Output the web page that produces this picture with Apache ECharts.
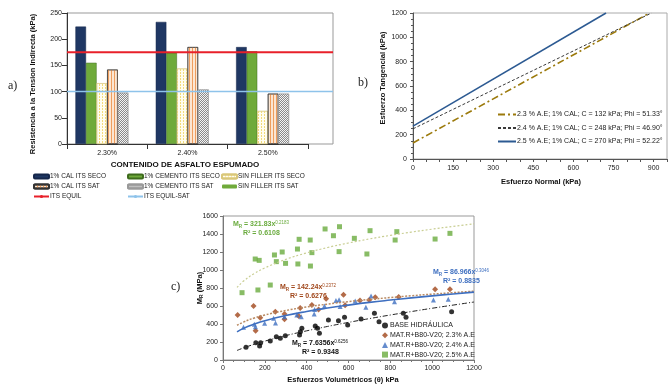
<!DOCTYPE html>
<html>
<head>
<meta charset="utf-8">
<script src="https://cdn.jsdelivr.net/npm/echarts@6/dist/echarts.min.js"></script>
<style>
html, body { margin: 0; padding: 0; background: #fff; }
#main { width: 672px; height: 390px; }
</style>
</head>
<body>
<div id="main"></div>
<script>
// a) resistencia a la tension indirecta (kPa)
const asfalto = ['2.30%', '2.40%', '2.50%'];
const calSeco = [224, 233, 185];
const cementoSeco = [155, 174, 177];
const sinFillerSeco = [116, 144, 63];
const calSat = [142, 185, 96];
const cementoSat = [98, 104, 96];
const sinFillerSat = [null, null, null];
const itsEquil = 175;
const itsEquilSat = 100;

// b) envolventes de falla, extremos [normal, tangencial]
const env23 = [[0, 132], [885, 1200]];
const env24 = [[0, 248], [892, 1200]];
const env25 = [[0, 270], [722, 1200]];

// c) modulo resiliente vs esfuerzo volumetrico
const baseHidraulica = [[110,141],[157,193],[175,156],[180,193],[226,211],[255,259],[274,241],[298,270],
  [366,278],[370,315],[377,352],[441,378],[452,352],[461,296],[504,444],[552,437],[581,474],[596,389],
  [660,455],[724,519],[746,426],[862,519],[875,474],[1093,537]];
const mat23 = [[70,500],[146,600],[156,326],[178,470],[250,537],[294,511],[294,452],[369,578],[362,490],
  [425,612],[457,560],[493,680],[576,726],[584,608],[655,660],[699,667],[728,697],[840,700],[1014,785],[1085,785]];
const mat24 = [[98,363],[150,396],[155,370],[199,407],[242,463],[251,410],[294,481],[353,500],[374,481],
  [436,511],[438,560],[485,600],[540,660],[555,670],[560,595],[632,656],[683,585],[708,711],[820,648],
  [1006,667],[1077,674]];
const mat25 = [[91,748],[154,1122],[173,1107],[167,778],[226,833],[246,1167],[255,1093],[283,1200],[299,1074],
  [356,1233],[364,1341],[358,1067],[417,1333],[425,1193],[418,1044],[488,1456],[528,1381],[557,1481],
  [555,1204],[628,1352],[703,1437],[688,1178],[831,1426],[823,1333],[1014,1344],[1085,1407]];
// lineas de tendencia (potencial)
const trendBase = [[67,106],[100,136],[150,175],[200,210],[300,271],[400,324],[500,373],[600,418],[700,460],[800,500],[900,538],[1000,575],[1100,610],[1200,644]];
const trend23 = [[67,386],[100,424],[150,467],[200,500],[300,550],[400,589],[500,621],[600,649],[700,673],[800,694],[900,714],[1000,732],[1100,749],[1200,765]];
const trend24 = [[67,313],[100,354],[150,400],[200,437],[300,494],[400,539],[500,577],[600,610],[700,640],[800,666],[900,690],[1000,713],[1100,734],[1200,754]];
const trend25 = [[67,806],[100,880],[150,961],[200,1023],[300,1118],[400,1190],[500,1250],[600,1300],[700,1345],[800,1385],[900,1421],[1000,1454],[1100,1485],[1200,1513]];

const FONT = "'Liberation Sans', Arial, sans-serif";
const lbl = { fontFamily: FONT, fontSize: 7, color: '#222', formatter: v => String(v) };

var chart = echarts.init(document.getElementById('main'));

function eqRich(c) {
    return {
        m: { font: "bold 7px " + FONT, fill: c, lineHeight: 9 },
        s: { font: "bold 4.5px " + FONT, fill: c, lineHeight: 9, padding: [4, 0, 0, 0] },
        p: { font: "4.5px " + FONT, fill: c, lineHeight: 9, padding: [0, 0, 4, 0] },
        r: { font: "bold 7px " + FONT, fill: c, lineHeight: 9, padding: [0, 0, 0, 10] }
    };
}

const legA = {
    orient: 'vertical', top: 172, itemWidth: 15, itemHeight: 4, itemGap: 1, padding: 0,
    textStyle: { fontFamily: FONT, fontSize: 6.5, color: '#222', lineHeight: 9, padding: [0, 0, 0, -4] }
};

const option = {
    backgroundColor: '#fff',
    animation: false,
    textStyle: { fontFamily: FONT },
    grid: [
        { left: 67, top: 13, width: 241, height: 131 },
        { left: 413, top: 13, width: 254, height: 146, show: true, borderColor: '#aaa', borderWidth: 1 },
        { left: 223, top: 216, width: 251, height: 144, show: true, borderColor: '#999', borderWidth: 1 },
        // marco del grafico a) y lineas ITS
        { left: 67, top: 13, width: 266, height: 131, show: true, borderColor: '#999', borderWidth: 1, backgroundColor: 'transparent' }
    ],
    xAxis: [
        {
            gridIndex: 0, type: 'category', data: asfalto,
            axisLine: { lineStyle: { color: '#333' } },
            axisTick: { show: true, lineStyle: { color: '#333' } },
            axisLabel: { fontFamily: FONT, fontSize: 7, color: '#222', margin: 6 }
        },
        {
            gridIndex: 1, type: 'value', min: 0, max: 950, interval: 50,
            axisLine: { lineStyle: { color: '#555' } },
            axisTick: { show: true, length: 3, lineStyle: { color: '#555' } },
            splitLine: { show: false },
            axisLabel: Object.assign({}, lbl, { margin: 6, formatter: v => (v % 150 === 0 ? String(v) : '') })
        },
        {
            gridIndex: 2, type: 'value', min: 0, max: 1200, interval: 200,
            axisLine: { lineStyle: { color: '#777' } },
            axisTick: { show: true, length: 3, lineStyle: { color: '#777' } },
            minorTick: { show: true, splitNumber: 4, length: 2, lineStyle: { color: '#777' } },
            splitLine: { show: false },
            axisLabel: Object.assign({}, lbl, { margin: 5 })
        },
        { gridIndex: 3, type: 'value', min: 0, max: 1, show: false }
    ],
    yAxis: [
        {
            gridIndex: 0, type: 'value', min: 0, max: 250, interval: 50,
            axisLine: { show: true, lineStyle: { color: '#333' } },
            axisTick: { show: true, lineStyle: { color: '#333' } },
            splitLine: { show: false },
            axisLabel: Object.assign({}, lbl, { margin: 5 })
        },
        {
            gridIndex: 1, type: 'value', min: 0, max: 1200, interval: 200,
            axisLine: { show: true, lineStyle: { color: '#555' } },
            axisTick: { show: true, length: 3, lineStyle: { color: '#555' } },
            minorTick: { show: true, splitNumber: 4, length: 2, lineStyle: { color: '#555' } },
            splitLine: { show: false },
            axisLabel: Object.assign({}, lbl, { margin: 6 })
        },
        {
            gridIndex: 2, type: 'value', min: 0, max: 1600, interval: 200,
            axisLine: { show: true, lineStyle: { color: '#777' } },
            axisTick: { show: true, length: 3, lineStyle: { color: '#777' } },
            splitLine: { show: false },
            axisLabel: Object.assign({}, lbl, { margin: 5 })
        },
        { gridIndex: 3, type: 'value', min: 0, max: 250, show: false }
    ],
    legend: [
        Object.assign({}, legA, { left: 33, data: ['1% CAL ITS SECO', '1% CAL ITS SAT', 'ITS EQUIL'] }),
        Object.assign({}, legA, { left: 127, data: ['1% CEMENTO ITS SECO', '1% CEMENTO ITS SAT', 'ITS EQUIL-SAT'] }),
        Object.assign({}, legA, { left: 221, data: ['SIN FILLER ITS SECO', 'SIN FILLER ITS SAT'] }),
        {
            data: ['2.3 % A.E; 1% CAL; C = 132 kPa; Phi = 51.33°', '2.4 % A.E; 1% CAL; C = 248 kPa; Phi = 46.90°', '2.5 % A.E; 1% CAL; C = 270 kPa; Phi = 52.22°'],
            orient: 'vertical', left: 497, top: 111, itemWidth: 18, itemHeight: 8, itemGap: 6.5, padding: 0,
            itemStyle: { opacity: 0 },
            textStyle: { fontFamily: FONT, fontSize: 7, color: '#222', padding: [0, 0, 0, -4] }
        },
        {
            data: ['BASE HIDRÁULICA', 'MAT.R+B80-V20; 2.3% A.E', 'MAT.R+B80-V20; 2.4% A.E', 'MAT.R+B80-V20; 2.5% A.E'],
            orient: 'vertical', left: 382, top: 322, itemWidth: 6, itemHeight: 6, itemGap: 2.7, padding: 0,
            textStyle: { fontFamily: FONT, fontSize: 7, color: '#222', padding: [0, 0, 0, -3] }
        }
    ],
    series: [
        // a) barras
        {
            name: '1% CAL ITS SECO', type: 'bar', xAxisIndex: 0, yAxisIndex: 0, data: calSeco,
            barGap: '0%', barCategoryGap: '21%',
            itemStyle: { color: '#1F3763', borderColor: '#15264a', borderWidth: 0.5 }
        },
        {
            name: '1% CEMENTO ITS SECO', type: 'bar', xAxisIndex: 0, yAxisIndex: 0, data: cementoSeco,
            itemStyle: { color: '#6FAA3A', borderColor: '#3d6b1c', borderWidth: 0.5 }
        },
        {
            name: 'SIN FILLER ITS SECO', type: 'bar', xAxisIndex: 0, yAxisIndex: 0, data: sinFillerSeco,
            itemStyle: {
                color: '#FFFDF0', borderColor: '#d9c77a', borderWidth: 0.5,
                decal: { symbol: 'rect', symbolSize: 1, color: '#F3DB7A', dashArrayX: [1, 2], dashArrayY: [2, 1] }
            }
        },
        {
            name: '1% CAL ITS SAT', type: 'bar', xAxisIndex: 0, yAxisIndex: 0, data: calSat,
            itemStyle: {
                color: '#FCE6D2', borderColor: '#333', borderWidth: 0.6,
                decal: { symbol: 'rect', symbolSize: 1, color: '#EE9E5E', dashArrayX: [1, 2], dashArrayY: [4, 0] }
            }
        },
        {
            name: '1% CEMENTO ITS SAT', type: 'bar', xAxisIndex: 0, yAxisIndex: 0, data: cementoSat,
            itemStyle: {
                color: '#F4F4F4', borderColor: '#999', borderWidth: 0.5,
                decal: { symbol: 'rect', symbolSize: 1, color: '#8A8A8A', dashArrayX: [[1, 1], [0, 1, 1, 0]], dashArrayY: [1, 0] }
            }
        },
        {
            name: 'SIN FILLER ITS SAT', type: 'bar', xAxisIndex: 0, yAxisIndex: 0, data: sinFillerSat,
            itemStyle: { color: '#6FAA3A' }
        },
        {
            name: 'ITS EQUIL', type: 'line', xAxisIndex: 3, yAxisIndex: 3, data: [[0, itsEquil], [1, itsEquil]],
            symbol: 'none', silent: true,
            itemStyle: { color: '#E8202A' }, lineStyle: { color: '#E8202A', width: 2 }
        },
        {
            name: 'ITS EQUIL-SAT', type: 'line', xAxisIndex: 3, yAxisIndex: 3, data: [[0, itsEquilSat], [1, itsEquilSat]],
            symbol: 'none', silent: true,
            itemStyle: { color: '#8EC3EA' }, lineStyle: { color: '#8EC3EA', width: 1.5 }
        },
        // b) envolventes
        {
            name: '2.3 % A.E; 1% CAL; C = 132 kPa; Phi = 51.33°', type: 'line', xAxisIndex: 1, yAxisIndex: 1,
            data: env23, symbol: 'none', itemStyle: { color: '#9C7A0C' },
            lineStyle: { color: '#9C7A0C', width: 1.6, type: [7, 3, 2, 3] }
        },
        {
            name: '2.4 % A.E; 1% CAL; C = 248 kPa; Phi = 46.90°', type: 'line', xAxisIndex: 1, yAxisIndex: 1,
            data: env24, symbol: 'none', itemStyle: { color: '#3a3a3a' },
            lineStyle: { color: '#3a3a3a', width: 1, type: [3, 2] }
        },
        {
            name: '2.5 % A.E; 1% CAL; C = 270 kPa; Phi = 52.22°', type: 'line', xAxisIndex: 1, yAxisIndex: 1,
            data: env25, symbol: 'none', itemStyle: { color: '#2C5A92' },
            lineStyle: { color: '#2C5A92', width: 1.5 }
        },
        // c) tendencias
        {
            type: 'line', xAxisIndex: 2, yAxisIndex: 2, data: trend25, smooth: true, symbol: 'none', silent: true,
            lineStyle: { color: '#C9CE93', width: 1.2, type: [2, 2] }
        },
        {
            type: 'line', xAxisIndex: 2, yAxisIndex: 2, data: trend23, smooth: true, symbol: 'none', silent: true,
            lineStyle: { color: '#B98A62', width: 1.5, type: [2, 1.5] }
        },
        {
            type: 'line', xAxisIndex: 2, yAxisIndex: 2, data: trend24, smooth: true, symbol: 'none', silent: true,
            lineStyle: { color: '#3E6FC0', width: 1.6 }
        },
        {
            type: 'line', xAxisIndex: 2, yAxisIndex: 2, data: trendBase, smooth: true, symbol: 'none', silent: true,
            lineStyle: { color: '#222', width: 1, type: [5, 2, 1, 2] }
        },
        // c) puntos
        {
            name: 'BASE HIDRÁULICA', type: 'scatter', xAxisIndex: 2, yAxisIndex: 2, data: baseHidraulica,
            symbol: 'circle', symbolSize: 5, itemStyle: { color: '#000' }
        },
        {
            name: 'MAT.R+B80-V20; 2.3% A.E', type: 'scatter', xAxisIndex: 2, yAxisIndex: 2, data: mat23,
            symbol: 'diamond', symbolSize: 6, itemStyle: { color: '#A0461A' }
        },
        {
            name: 'MAT.R+B80-V20; 2.4% A.E', type: 'scatter', xAxisIndex: 2, yAxisIndex: 2, data: mat24,
            symbol: 'triangle', symbolSize: 5, itemStyle: { color: '#3E6FC0' }
        },
        {
            name: 'MAT.R+B80-V20; 2.5% A.E', type: 'scatter', xAxisIndex: 2, yAxisIndex: 2, data: mat25,
            symbol: 'rect', symbolSize: 5, itemStyle: { color: '#6AAB3E' }
        }
    ],
    graphic: [
        { type: 'text', x: 8, y: 80, style: { text: 'a)', font: "12px 'Liberation Serif', serif", fill: '#222' } },
        { type: 'text', x: 358, y: 77, style: { text: 'b)', font: "12px 'Liberation Serif', serif", fill: '#222' } },
        { type: 'text', x: 171, y: 281, style: { text: 'c)', font: "12px 'Liberation Serif', serif", fill: '#222' } },
        // titulos de ejes
        { type: 'text', x: 33, y: 84, rotation: Math.PI / 2,
          style: { text: 'Resistencia a la Tension Indirecta (kPa)', font: "bold 7.5px " + FONT, fill: '#111', align: 'center', verticalAlign: 'middle' } },
        { type: 'text', x: 185, y: 165,
          style: { text: 'CONTENIDO DE ASFALTO ESPUMADO', font: "bold 8px " + FONT, fill: '#111', align: 'center', verticalAlign: 'middle' } },
        { type: 'text', x: 383, y: 78, rotation: Math.PI / 2,
          style: { text: 'Esfuerzo Tangencial (kPa)', font: "bold 7.5px " + FONT, fill: '#111', align: 'center', verticalAlign: 'middle' } },
        { type: 'text', x: 541, y: 182,
          style: { text: 'Esfuerzo Normal (kPa)', font: "bold 7.5px " + FONT, fill: '#111', align: 'center', verticalAlign: 'middle' } },
        { type: 'text', x: 200, y: 288, rotation: Math.PI / 2,
          style: { text: '{m|M}{s|R}{m| (MPa)}', align: 'center', verticalAlign: 'middle',
                   rich: { m: { font: "bold 7.5px " + FONT, fill: '#111', lineHeight: 10 },
                           s: { font: "bold 5px " + FONT, fill: '#111', lineHeight: 10, padding: [4, 0, 0, 0] } } } },
        { type: 'text', x: 343, y: 380,
          style: { text: 'Esfuerzos Volumétricos (θ) kPa', font: "bold 7.5px " + FONT, fill: '#111', align: 'center', verticalAlign: 'middle' } },
        // ecuaciones
        { type: 'text', x: 233, y: 229,
          style: { text: '{m|M}{s|R}{m| = 321.83x}{p|0.2183}\n{r|R² = 0.6108}', align: 'left', verticalAlign: 'middle',
                   rich: eqRich('#6AAB3E') } },
        { type: 'text', x: 280, y: 292,
          style: { text: '{m|M}{s|R}{m| = 142.24x}{p|0.2372}\n{r|R² = 0.6276}', align: 'left', verticalAlign: 'middle',
                   rich: eqRich('#A0461A') } },
        { type: 'text', x: 433, y: 277,
          style: { text: '{m|M}{s|R}{m| = 86.966x}{p|0.3046}\n{r|R² = 0.8835}', align: 'left', verticalAlign: 'middle',
                   rich: eqRich('#3E6FC0') } },
        { type: 'text', x: 292, y: 348,
          style: { text: '{m|M}{s|R}{m| = 7.6356x}{p|0.6256}\n{r|R² = 0.9348}', align: 'left', verticalAlign: 'middle',
                   rich: eqRich('#111') } }
    ]
};

chart.setOption(option);
</script>
</body>
</html>
